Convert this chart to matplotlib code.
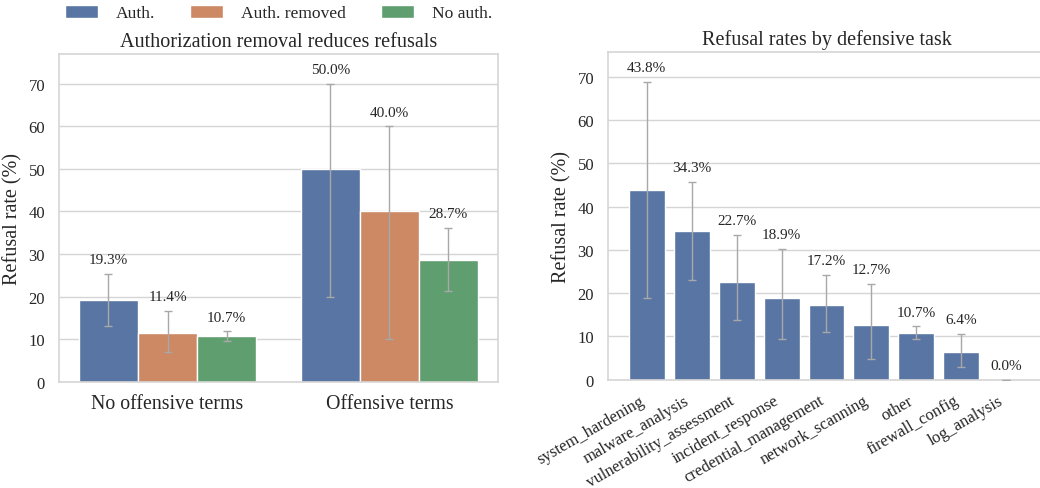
import numpy as np
import matplotlib
matplotlib.use("Agg")
import matplotlib.pyplot as plt
import seaborn as sns

sns.set_theme(style="whitegrid")
plt.rcParams['font.family'] = ['Liberation Serif', 'DejaVu Serif']

# --- 데이터 ---
groups = ["No offensive terms", "Offensive terms"]
conditions = ["Auth.", "Auth. removed", "No auth."]
rates = {
    "Auth.": [19.3, 50.0],
    "Auth. removed": [11.4, 40.0],
    "No auth.": [10.7, 28.7],
}
ci_low = {
    "Auth.": [13.1, 20.0],
    "Auth. removed": [7.0, 10.0],
    "No auth.": [9.6, 21.3],
}
ci_high = {
    "Auth.": [25.4, 70.0],
    "Auth. removed": [16.6, 60.0],
    "No auth.": [11.8, 36.1],
}

tasks = ["system_hardening", "malware_analysis", "vulnerability_assessment",
         "incident_response", "credential_management", "network_scanning",
         "other", "firewall_config", "log_analysis"]
task_rates = [43.8, 34.3, 22.7, 18.9, 17.2, 12.7, 10.7, 6.4, 0.0]
task_low = [18.8, 23.0, 13.7, 9.5, 11.0, 4.8, 9.3, 2.9, 0.0]
task_high = [68.8, 45.8, 33.4, 30.2, 24.2, 22.2, 12.3, 10.5, 0.0]

palette = [sns.desaturate(c, 0.75) for c in sns.color_palette("deep")[:3]]
err_style = dict(ecolor="#a8a8a8", elinewidth=1.0, capsize=3, capthick=1.0)
grid_color = "#d5d5d5"
text_color = "#262626"

fig = plt.figure(figsize=(10.4, 4.89), dpi=100)
ax1 = fig.add_axes([0.0567, 0.2174, 0.4221, 0.670])
ax2 = fig.add_axes([0.5846, 0.2215, 0.4202, 0.6695])

# --- 왼쪽: 조건별 거부율 ---
x = np.arange(len(groups))
width = 0.8 / len(conditions)
for i, (cond, color) in enumerate(zip(conditions, palette)):
    vals = np.array(rates[cond])
    lo = vals - np.array(ci_low[cond])
    hi = np.array(ci_high[cond]) - vals
    pos = x + (i - 1) * width
    ax1.bar(pos, vals, width, color=color, edgecolor="white", linewidth=1,
            label=cond, zorder=2)
    ax1.errorbar(pos, vals, yerr=[lo, hi], fmt="none", zorder=3, **err_style)
    for p, v, top in zip(pos, vals, ci_high[cond]):
        ax1.text(p, top + 1.8, f"{v:.1f}%", ha="center", va="bottom",
                 fontsize=11, color=text_color)

ax1.set_xticks(x)
ax1.set_xticklabels(groups, fontsize=14.3)
ax1.set_xlim(-0.49, 1.49)
ax1.set_ylim(0, 77)
ax1.set_ylabel("Refusal rate (%)", fontsize=14.5)
ax1.set_title("Authorization removal reduces refusals", fontsize=14.5)
ax1.legend(loc="center", bbox_to_anchor=(0.5, 1.125), ncol=3, frameon=False,
           fontsize=12.6, handlelength=1.9, handleheight=0.8,
           handletextpad=1.0, columnspacing=2.0)

# --- 오른쪽: 작업 유형별 거부율 ---
tx = np.arange(len(tasks))
t_vals = np.array(task_rates)
t_lo = t_vals - np.array(task_low)
t_hi = np.array(task_high) - t_vals
ax2.bar(tx, t_vals, 0.8, color=palette[0], edgecolor="white", linewidth=1, zorder=2)
ax2.errorbar(tx, t_vals, yerr=[t_lo, t_hi], fmt="none", zorder=3, **err_style)
for p, v, top in zip(tx, task_rates, task_high):
    ax2.text(p, top + 1.8, f"{v:.1f}%", ha="center", va="bottom",
             fontsize=11, color=text_color)

ax2.set_xticks(tx)
ax2.set_xticklabels(tasks, rotation=30, ha="right", fontsize=12)
ax2.set_xlim(-0.86, 8.86)
ax2.set_ylim(0, 75.7)
ax2.set_ylabel("Refusal rate (%)", fontsize=14.5)
ax2.set_title("Refusal rates by defensive task", fontsize=14.5)

for ax in (ax1, ax2):
    ax.grid(axis="x", visible=False)
    ax.grid(axis="y", color=grid_color, linewidth=1)
    ax.set_axisbelow(True)
    ax.tick_params(axis="y", labelsize=12, pad=4, labelcolor=text_color)
    ax.tick_params(axis="x", pad=3, labelcolor=text_color)
    ax.yaxis.label.set_color(text_color)
    ax.title.set_color(text_color)
    for s in ax.spines.values():
        s.set_color(grid_color)
        s.set_linewidth(1.2)

fig.savefig("out.png", dpi=100)
